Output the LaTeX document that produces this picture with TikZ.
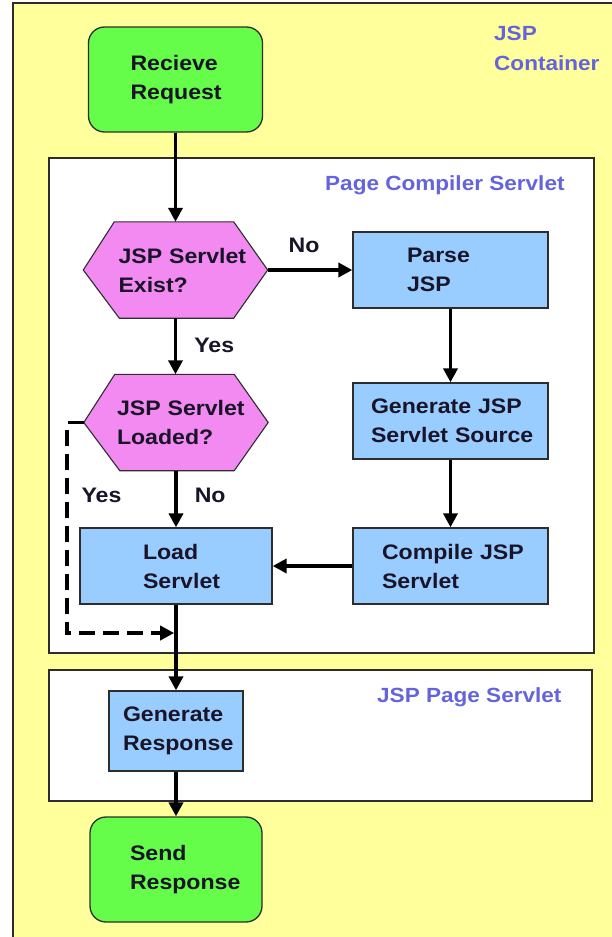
\documentclass[tikz,border=0pt]{standalone}
\usepackage{fontspec}
\setmainfont[FakeStretch=1.1]{Liberation Sans}
\usetikzlibrary{arrows.meta}
\definecolor{bgyellow}{RGB}{255,255,155}
\definecolor{startgreen}{RGB}{102,252,74}
\definecolor{hexpink}{RGB}{242,138,242}
\definecolor{boxblue}{RGB}{153,204,255}
\definecolor{lblblue}{RGB}{100,100,220}
\definecolor{inkdark}{RGB}{25,20,40}
\definecolor{edgegray}{RGB}{45,45,45}
\pgfdeclarelayer{containers}
\pgfdeclarelayer{shapes}
\pgfsetlayers{containers,shapes,main}
\tikzset{
  basetxt/.style={font=\fontsize{21}{29}\selectfont\bfseries, text=inkdark, align=left},
  indent/.style={execute at begin node={\leftskip=#1\relax}},
  procbox/.style={basetxt, draw=edgegray, line width=1.3pt, fill=boxblue, rectangle, inner sep=0pt},
  termbox/.style={basetxt, draw=edgegray, line width=1.3pt, fill=startgreen, rounded corners=16pt, inner sep=0pt},
  hexnode/.style={basetxt, rectangle, inner sep=0pt, minimum width=184pt, minimum height=96pt, text width=184pt},
  hexshape/.style={draw=edgegray, line width=1.1pt, fill=hexpink},
  container/.style={draw=edgegray, line width=1.6pt, fill=white},
  grouplbl/.style={font=\fontsize{20.5}{30}\selectfont\bfseries, text=lblblue, inner sep=0pt, align=left},
  flowlbl/.style={font=\fontsize{21}{29}\selectfont\bfseries, text=inkdark, inner sep=0pt},
  arr/.style={line width=3.6pt, draw=black, -{Triangle[length=14pt,width=14pt]}},
  dasharr/.style={arr, dash pattern=on 16pt off 8pt},
}
\begin{document}
\begin{tikzpicture}[x=1pt,y=-1pt]
\useasboundingbox (0,0) rectangle (611,937);
% containers
\begin{pgfonlayer}{containers}
  \fill[white] (0,0) rectangle (611,937);
  \draw[draw=edgegray, line width=2pt, fill=bgyellow] (13,3) rectangle (616,942);
  \draw[container] (49,158) rectangle (594,653);
  \draw[container] (49,670) rectangle (592,801);
\end{pgfonlayer}
\node[grouplbl, anchor=base west, text width=130pt] (lcontainer) at (494,40) {JSP\\Container};
\node[grouplbl, anchor=base west] (lcompiler) at (325,190) {Page Compiler Servlet};
\node[grouplbl, anchor=base west] (lpage) at (377,702) {JSP Page Servlet};
% nodes
\node[termbox, minimum width=174pt, minimum height=105pt, text width=174pt, indent=42pt] (rr) at (175.5,79.5) {Recieve\\Request};
\node[hexnode, indent=35pt] (h1) at (175.5,270) {JSP Servlet\\Exist?};
\node[hexnode, indent=33pt] (h2) at (176,422.5) {JSP Servlet\\Loaded?};
\node[procbox, minimum width=195pt, minimum height=76pt, text width=195pt, indent=54pt] (parse) at (450.5,270) {Parse\\JSP};
\node[procbox, minimum width=195pt, minimum height=76pt, text width=195pt, indent=18pt] (gen) at (450.5,421) {Generate JSP\\Servlet Source};
\node[procbox, minimum width=195pt, minimum height=76pt, text width=195pt, indent=29pt] (comp) at (450.5,566) {Compile JSP\\Servlet};
\node[procbox, minimum width=192pt, minimum height=76pt, text width=192pt, indent=63pt] (load) at (176,566) {Load\\Servlet};
\node[procbox, minimum width=134pt, minimum height=80pt, text width=134pt, indent=14pt] (gr) at (176,731) {Generate\\Response};
\node[termbox, minimum width=172pt, minimum height=105pt, text width=172pt, indent=40pt] (send) at (176,869.5) {Send\\Response};
% hexagon outlines
\begin{pgfonlayer}{shapes}
  \draw[hexshape] (h1.west) -- ([xshift=31pt]h1.north west) -- ([xshift=-34pt]h1.north east) -- (h1.east) -- ([xshift=-34pt]h1.south east) -- ([xshift=36pt]h1.south west) -- cycle;
  \draw[hexshape] (h2.west) -- ([xshift=31pt]h2.north west) -- ([xshift=-34pt]h2.north east) -- (h2.east) -- ([xshift=-34pt]h2.south east) -- ([xshift=36pt]h2.south west) -- cycle;
\end{pgfonlayer}
% connectors
\draw[arr] (rr.south) -- (h1.north);
\draw[arr] (h1.east) -- node[flowlbl, above=15pt, pos=0.43] (lno1) {No} (parse.west);
\draw[arr] (parse.south) -- (gen.north);
\draw[arr] (gen.south) -- (comp.north);
\draw[arr] (comp.west) -- (load.east);
\draw[arr] (h1.south) -- node[flowlbl, anchor=base west, xshift=17pt, pos=0.61] (lyes1) {Yes} (h1.south |- h2.north);
\draw[arr] (h2.south) -- node[flowlbl, anchor=base west, xshift=17pt, pos=0.57] (lno2) {No} (load.north);
\draw[arr] (load.south) -- (gr.north);
\draw[arr] (gr.south) -- (send.north);
\coordinate (join) at (176,633);
\draw[dasharr, shorten >=1.8pt] (h2.west) -- ++(-17,0) |- node[flowlbl, anchor=base west, xshift=13pt, pos=0.19] (lyes2) {Yes} (join);
\end{tikzpicture}
\end{document}
